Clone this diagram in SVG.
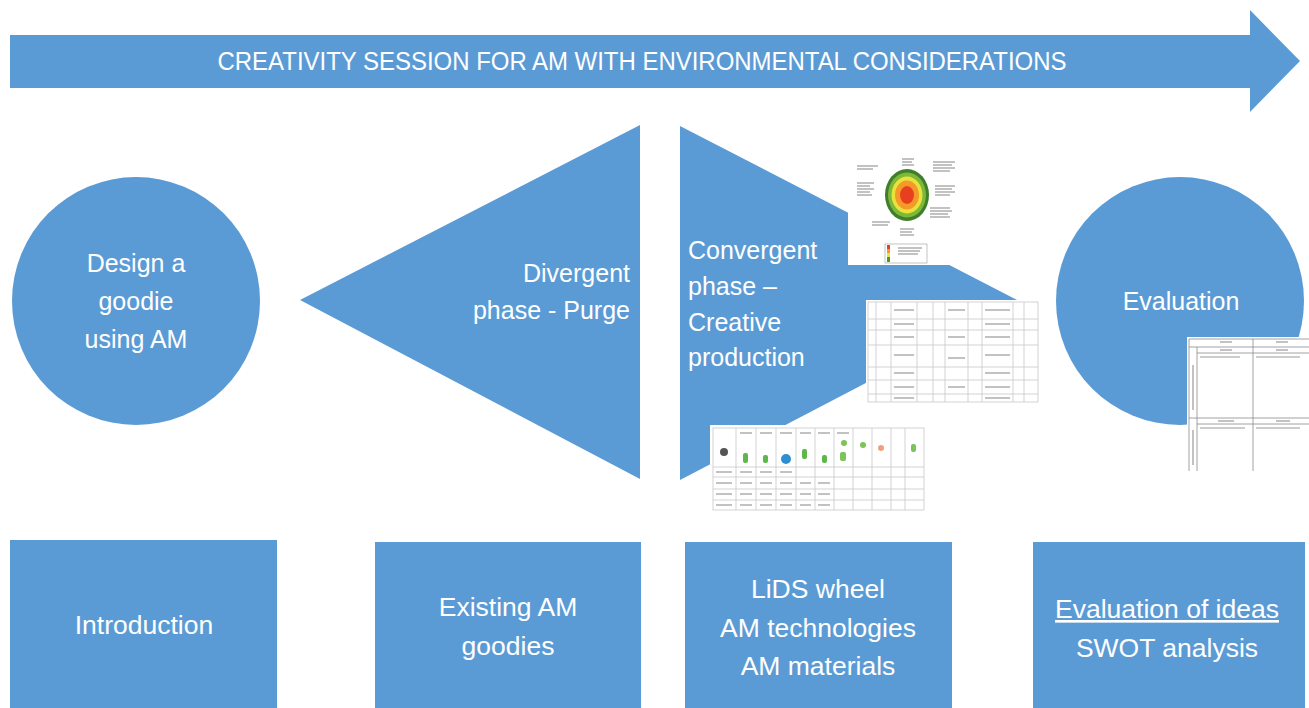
<svg xmlns="http://www.w3.org/2000/svg" width="1309" height="708" viewBox="0 0 1309 708">
<style>
.b{fill:#5B9BD5}
.t{font-family:"Liberation Sans",Arial,sans-serif;font-size:25px;fill:#FFFFFF}
.bx{font-size:26.5px}
.c{text-anchor:middle}
.g{stroke:#C8C8C8;stroke-width:0.8;fill:none}
.k{stroke:#8A8A8A;stroke-width:0.8;fill:none}
.w{fill:#FFFFFF}
.tx{stroke:#9A9A9A;stroke-width:1.2}
</style>
<rect width="1309" height="708" fill="#FFFFFF"/>

<g id="title-arrow">
<polygon class="b" points="10,35 1250,35 1250,10 1300,61 1250,112 1250,88 10,88"/>
<text class="t c" x="642" y="70" font-size="22" textLength="849" lengthAdjust="spacingAndGlyphs">CREATIVITY SESSION FOR AM WITH ENVIRONMENTAL CONSIDERATIONS</text>
</g>

<g id="design-goodie">
<circle class="b" cx="136" cy="301" r="124"/>
<text class="t c" x="136" y="272">Design a</text>
<text class="t c" x="136" y="310">goodie</text>
<text class="t c" x="136" y="348">using AM</text>
</g>

<g id="divergent">
<polygon class="b" points="300,300 640,125 640,479"/>
<text class="t" x="630" y="282" text-anchor="end">Divergent</text>
<text class="t" x="630" y="319" text-anchor="end">phase - Purge</text>
</g>

<g id="convergent">
<polygon class="b" points="680,126 1021,302 680,480"/>
<text class="t" x="688" y="259">Convergent</text>
<text class="t" x="688" y="295">phase –</text>
<text class="t" x="688" y="331">Creative</text>
<text class="t" x="688" y="366">production</text>
</g>

<g id="evaluation">
<circle class="b" cx="1180" cy="301" r="124"/>
<text class="t c" x="1181" y="310">Evaluation</text>
</g>

<g id="lids-wheel-image">
<rect class="w" x="848" y="152" width="116" height="113"/>
<ellipse cx="907" cy="195" rx="22" ry="26" fill="#3F7F2A"/>
<ellipse cx="907" cy="195" rx="19" ry="22.5" fill="#7DB83A"/>
<ellipse cx="907" cy="195" rx="15.5" ry="18.5" fill="#E8E23A"/>
<ellipse cx="907" cy="195" rx="12" ry="14.5" fill="#F39A2A"/>
<ellipse cx="907" cy="195" rx="7" ry="9" fill="#E8401E"/>
<g class="tx">
<line x1="857" y1="166" x2="878" y2="166"/><line x1="857" y1="169" x2="873" y2="169"/>
<line x1="857" y1="183" x2="874" y2="183"/><line x1="857" y1="186" x2="870" y2="186"/><line x1="857" y1="189" x2="874" y2="189"/><line x1="857" y1="192" x2="870" y2="192"/><line x1="857" y1="195" x2="872" y2="195"/>
<line x1="902" y1="159" x2="914" y2="159"/><line x1="902" y1="162" x2="912" y2="162"/><line x1="902" y1="165" x2="914" y2="165"/>
<line x1="933" y1="162" x2="955" y2="162"/><line x1="933" y1="165" x2="952" y2="165"/><line x1="933" y1="168" x2="955" y2="168"/><line x1="933" y1="171" x2="950" y2="171"/>
<line x1="935" y1="186" x2="955" y2="186"/><line x1="935" y1="189" x2="952" y2="189"/><line x1="935" y1="192" x2="955" y2="192"/><line x1="935" y1="195" x2="950" y2="195"/>
<line x1="930" y1="208" x2="950" y2="208"/><line x1="930" y1="211" x2="952" y2="211"/><line x1="930" y1="214" x2="948" y2="214"/><line x1="930" y1="217" x2="950" y2="217"/>
<line x1="872" y1="222" x2="890" y2="222"/><line x1="872" y1="225" x2="888" y2="225"/>
<line x1="900" y1="229" x2="914" y2="229"/><line x1="900" y1="232" x2="912" y2="232"/><line x1="900" y1="235" x2="914" y2="235"/>
</g>
<rect x="885" y="244" width="42" height="19" fill="#FFFFFF" stroke="#9A9A9A" stroke-width="0.6"/>
<rect x="887" y="245" width="3" height="4" fill="#E8401E"/>
<rect x="887" y="249" width="3" height="4" fill="#F39A2A"/>
<rect x="887" y="253" width="3" height="4" fill="#E8E23A"/>
<rect x="887" y="257" width="3" height="5" fill="#3F9F2A"/>
<g class="tx"><line x1="898" y1="248" x2="922" y2="248"/><line x1="898" y1="251" x2="920" y2="251"/><line x1="898" y1="254" x2="918" y2="254"/></g>
</g>

<g id="am-technologies-table">
<rect class="w" x="866" y="300" width="174" height="104"/>
<g class="g">
<rect x="868" y="302" width="170" height="100"/>
<line x1="868" y1="319" x2="1038" y2="319"/>
<line x1="868" y1="330" x2="1038" y2="330"/>
<line x1="868" y1="345" x2="1038" y2="345"/>
<line x1="868" y1="367" x2="1038" y2="367"/>
<line x1="868" y1="380" x2="1038" y2="380"/>
<line x1="868" y1="394" x2="1038" y2="394"/>
<line x1="876" y1="302" x2="876" y2="402"/>
<line x1="891" y1="302" x2="891" y2="402"/>
<line x1="917" y1="302" x2="917" y2="402"/>
<line x1="933" y1="302" x2="933" y2="402"/>
<line x1="945" y1="302" x2="945" y2="402"/>
<line x1="968" y1="302" x2="968" y2="402"/>
<line x1="982" y1="302" x2="982" y2="402"/>
<line x1="1013" y1="302" x2="1013" y2="402"/>
<line x1="1024" y1="302" x2="1024" y2="402"/>
</g>
<g class="tx" stroke-width="0.9">
<line x1="894" y1="310" x2="914" y2="310"/><line x1="985" y1="310" x2="1010" y2="310"/><line x1="948" y1="310" x2="965" y2="310"/>
<line x1="894" y1="324" x2="914" y2="324"/><line x1="985" y1="324" x2="1010" y2="324"/>
<line x1="894" y1="337" x2="914" y2="337"/><line x1="948" y1="337" x2="965" y2="337"/><line x1="985" y1="337" x2="1010" y2="337"/>
<line x1="894" y1="355" x2="914" y2="355"/><line x1="948" y1="358" x2="965" y2="358"/><line x1="985" y1="355" x2="1010" y2="355"/>
<line x1="894" y1="373" x2="914" y2="373"/><line x1="985" y1="373" x2="1010" y2="373"/>
<line x1="894" y1="387" x2="914" y2="387"/><line x1="948" y1="387" x2="965" y2="387"/><line x1="985" y1="387" x2="1010" y2="387"/>
<line x1="894" y1="398" x2="914" y2="398"/><line x1="985" y1="398" x2="1010" y2="398"/>
</g>
</g>

<g id="am-materials-table">
<rect class="w" x="710" y="425" width="216" height="87"/>
<g class="g">
<rect x="713" y="428" width="211" height="82"/>
<line x1="713" y1="467" x2="924" y2="467"/>
<line x1="713" y1="477" x2="924" y2="477"/>
<line x1="713" y1="489" x2="924" y2="489"/>
<line x1="713" y1="500" x2="924" y2="500"/>
<line x1="736" y1="428" x2="736" y2="510"/>
<line x1="756" y1="428" x2="756" y2="510"/>
<line x1="776" y1="428" x2="776" y2="510"/>
<line x1="796" y1="428" x2="796" y2="510"/>
<line x1="815" y1="428" x2="815" y2="510"/>
<line x1="834" y1="428" x2="834" y2="510"/>
<line x1="853" y1="428" x2="853" y2="510"/>
<line x1="872" y1="428" x2="872" y2="510"/>
<line x1="891" y1="428" x2="891" y2="510"/>
<line x1="905" y1="428" x2="905" y2="510"/>
</g>
<circle cx="724" cy="452" r="4" fill="#555555"/>
<rect x="743" y="453" width="5" height="10" rx="2" fill="#5DB84A"/>
<rect x="763" y="455" width="5" height="8" rx="2" fill="#5DB84A"/>
<circle cx="786" cy="459" r="5" fill="#2E8FD0"/>
<rect x="802" y="449" width="5" height="10" rx="2" fill="#5DB84A"/>
<rect x="822" y="455" width="5" height="8" rx="2" fill="#5DB84A"/>
<rect x="840" y="452" width="6" height="9" rx="2" fill="#7CC35A"/>
<circle cx="844" cy="443" r="3" fill="#7CC35A"/>
<circle cx="863" cy="445" r="3" fill="#7CC35A"/>
<circle cx="881" cy="448" r="3" fill="#F0A080"/>
<rect x="911" y="444" width="5" height="8" rx="2" fill="#7CC35A"/>
<g class="tx" stroke-width="0.8">
<line x1="740" y1="433" x2="752" y2="433"/><line x1="760" y1="433" x2="772" y2="433"/><line x1="780" y1="433" x2="792" y2="433"/><line x1="800" y1="433" x2="811" y2="433"/><line x1="818" y1="433" x2="830" y2="433"/><line x1="837" y1="433" x2="849" y2="433"/>
<line x1="716" y1="472" x2="732" y2="472"/><line x1="740" y1="472" x2="752" y2="472"/><line x1="760" y1="472" x2="772" y2="472"/><line x1="780" y1="472" x2="792" y2="472"/>
<line x1="716" y1="483" x2="732" y2="483"/><line x1="740" y1="483" x2="752" y2="483"/><line x1="760" y1="483" x2="772" y2="483"/><line x1="780" y1="483" x2="792" y2="483"/><line x1="800" y1="483" x2="811" y2="483"/><line x1="818" y1="483" x2="830" y2="483"/>
<line x1="716" y1="494" x2="732" y2="494"/><line x1="740" y1="494" x2="752" y2="494"/><line x1="760" y1="494" x2="772" y2="494"/><line x1="780" y1="494" x2="792" y2="494"/><line x1="800" y1="494" x2="811" y2="494"/><line x1="818" y1="494" x2="830" y2="494"/>
<line x1="716" y1="505" x2="732" y2="505"/><line x1="740" y1="505" x2="752" y2="505"/><line x1="760" y1="505" x2="772" y2="505"/><line x1="780" y1="505" x2="792" y2="505"/><line x1="800" y1="505" x2="811" y2="505"/><line x1="818" y1="505" x2="830" y2="505"/>
</g>
</g>

<g id="swot-image">
<rect class="w" x="1187" y="337" width="122" height="136"/>
<g class="k">
<line x1="1189" y1="339" x2="1309" y2="339"/>
<line x1="1189" y1="347" x2="1309" y2="347"/>
<line x1="1197" y1="353" x2="1309" y2="353"/>
<line x1="1189" y1="418" x2="1309" y2="418"/>
<line x1="1197" y1="424" x2="1309" y2="424"/>
<line x1="1189" y1="339" x2="1189" y2="471"/>
<line x1="1197" y1="347" x2="1197" y2="471"/>
<line x1="1253" y1="339" x2="1253" y2="471"/>
</g>
<g class="tx" stroke-width="0.9">
<line x1="1220" y1="342" x2="1232" y2="342"/><line x1="1276" y1="342" x2="1288" y2="342"/>
<line x1="1220" y1="350" x2="1232" y2="350"/><line x1="1276" y1="350" x2="1288" y2="350"/>
<line x1="1200" y1="357" x2="1240" y2="357"/><line x1="1256" y1="357" x2="1300" y2="357"/>
<line x1="1218" y1="421" x2="1234" y2="421"/><line x1="1276" y1="421" x2="1290" y2="421"/>
<line x1="1200" y1="428" x2="1245" y2="428"/><line x1="1256" y1="428" x2="1300" y2="428"/>
<line x1="1193" y1="365" x2="1193" y2="410"/><line x1="1193" y1="430" x2="1193" y2="465"/>
</g>
</g>

<g id="box-introduction">
<rect class="b" x="10" y="540" width="267" height="168"/>
<text class="t bx c" x="144" y="634">Introduction</text>
</g>

<g id="box-existing">
<rect class="b" x="375" y="542" width="266" height="166"/>
<text class="t bx c" x="508" y="616">Existing AM</text>
<text class="t bx c" x="508" y="655">goodies</text>
</g>

<g id="box-lids">
<rect class="b" x="685" y="542" width="267" height="166"/>
<text class="t bx c" x="818" y="598">LiDS wheel</text>
<text class="t bx c" x="818" y="637">AM technologies</text>
<text class="t bx c" x="818" y="675">AM materials</text>
</g>

<g id="box-evaluation">
<rect class="b" x="1033" y="542" width="272" height="166"/>
<text class="t bx c" x="1167" y="618" text-decoration="underline">Evaluation of ideas</text>
<text class="t bx c" x="1167" y="657">SWOT analysis</text>
</g>

<g id="connectors"></g>
</svg>
